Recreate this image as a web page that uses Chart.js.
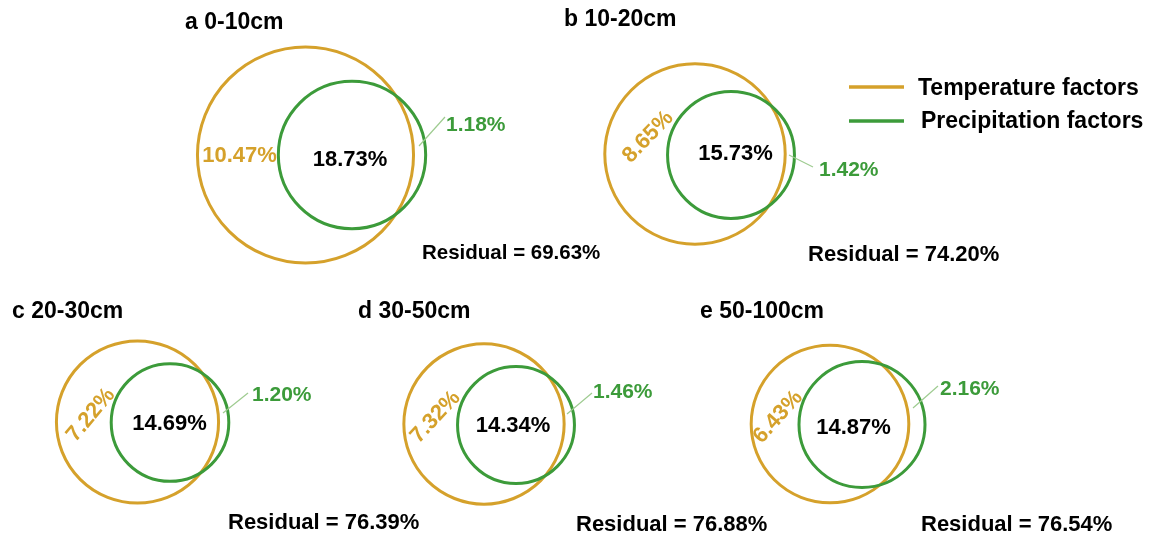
<!DOCTYPE html>
<html>
<head>
<meta charset="utf-8">
<title>Variance partitioning by soil depth</title>
<script src="https://cdn.jsdelivr.net/npm/chart.js@4/dist/chart.umd.min.js"></script>
<style>
  html, body { margin: 0; padding: 0; background: #ffffff; }
  #wrap { width: 1163px; height: 537px; }
</style>
</head>
<body>
<div id="wrap"><canvas id="venn" width="1163" height="537"></canvas></div>
<script>
// ---- data: variance explained (%) per soil layer ----
const panelLetters = ['a', 'b', 'c', 'd', 'e'];
const depths = ['0-10cm', '10-20cm', '20-30cm', '30-50cm', '50-100cm'];
const tempOnly = [10.47, 8.65, 7.22, 7.32, 6.43];
const shared = [18.73, 15.73, 14.69, 14.34, 14.87];
const precipOnly = [1.18, 1.42, 1.20, 1.46, 2.16];
const residual = [69.63, 74.20, 76.39, 76.88, 76.54];
const seriesNames = ['Temperature factors', 'Precipitation factors'];

// ---- layout (frame units, 1 unit per canvas pixel, y down) ----
const UNIT = 3.7; // frame units per percentage point of explained variance
const layout = [
  { title: [185, 23], tC: [305.5, 155], pC: [352, 155], tLbl: [239.5, 156, 0], sLbl: [350, 160],
    pLbl: [446, 125], lead: [419, 146, 445, 117], res: [422, 253, 20.5] },
  { title: [564, 20], tC: [695, 154], pC: [731, 155], tLbl: [648, 137, -46], sLbl: [735.5, 154],
    pLbl: [819, 170], lead: [789, 155, 813, 167], res: [808, 255, 22] },
  { title: [12, 312], tC: [137.5, 422], pC: [170, 422.5], tLbl: [91, 415, -50], sLbl: [169.5, 424],
    pLbl: [252, 395], lead: [223, 413, 248, 393], res: [228, 523, 22] },
  { title: [358, 312], tC: [484, 424], pC: [516, 425], tLbl: [435.5, 417, -47], sLbl: [513, 426],
    pLbl: [593, 392], lead: [567, 414, 592, 393], res: [576, 525, 22] },
  { title: [700, 312], tC: [830, 424], pC: [862, 424.5], tLbl: [778, 417, -48], sLbl: [853.5, 428],
    pLbl: [940, 389], lead: [913, 408, 938, 386], res: [921, 525, 22] }
];
const legendPos = { x0: 849, x1: 904, rows: [[87, 918, 89], [121, 921, 122]] };

const ORANGE = '#D5A12B';
const GREEN = '#3C9B3A';
const LEADER = '#9ECB90';
const FONT = '"Liberation Sans", Arial, Helvetica, sans-serif';

const fmt = v => v.toFixed(2) + '%';
const tempTotal = tempOnly.map((v, i) => v + shared[i]);
const precipTotal = precipOnly.map((v, i) => v + shared[i]);

// radius in pixels from a percentage, measured through the x scale
function radiusFrom(totals) {
  return ctx => {
    const xs = ctx.chart.scales.x;
    return xs.getPixelForValue(totals[ctx.dataIndex] * UNIT) - xs.getPixelForValue(0);
  };
}

const annotate = {
  id: 'vennText',
  afterDatasetsDraw(chart) {
    const c = chart.ctx;
    const xs = chart.scales.x, ys = chart.scales.y;
    const P = (x, y) => [xs.getPixelForValue(x), ys.getPixelForValue(y)];
    c.save();
    c.textBaseline = 'middle';

    layout.forEach((L, i) => {
      // panel title
      c.fillStyle = '#000';
      c.textAlign = 'left';
      c.font = 'bold 23px ' + FONT;
      let [x, y] = P(L.title[0], L.title[1]);
      c.fillText(panelLetters[i] + ' ' + depths[i], x, y);

      // shared fraction
      c.textAlign = 'center';
      c.font = 'bold 22px ' + FONT;
      [x, y] = P(L.sLbl[0], L.sLbl[1]);
      c.fillText(fmt(shared[i]), x, y);

      // temperature-only fraction
      c.fillStyle = ORANGE;
      [x, y] = P(L.tLbl[0], L.tLbl[1]);
      c.save();
      c.translate(x, y);
      c.rotate(L.tLbl[2] * Math.PI / 180);
      c.fillText(fmt(tempOnly[i]), 0, 0);
      c.restore();

      // precipitation-only fraction with leader line
      c.strokeStyle = LEADER;
      c.lineWidth = 1.2;
      const a = P(L.lead[0], L.lead[1]), b = P(L.lead[2], L.lead[3]);
      c.beginPath();
      c.moveTo(a[0], a[1]);
      c.lineTo(b[0], b[1]);
      c.stroke();
      c.fillStyle = GREEN;
      c.textAlign = 'left';
      c.font = 'bold 21px ' + FONT;
      [x, y] = P(L.pLbl[0], L.pLbl[1]);
      c.fillText(fmt(precipOnly[i]), x, y);

      // unexplained variance
      c.fillStyle = '#000';
      c.font = 'bold ' + L.res[2] + 'px ' + FONT;
      [x, y] = P(L.res[0], L.res[1]);
      c.fillText('Residual = ' + fmt(residual[i]), x, y);
    });

    // legend
    const colors = [ORANGE, GREEN];
    c.font = 'bold 23px ' + FONT;
    c.textAlign = 'left';
    legendPos.rows.forEach((r, k) => {
      const p0 = P(legendPos.x0, r[0]), p1 = P(legendPos.x1, r[0]);
      c.strokeStyle = colors[k];
      c.lineWidth = 3.5;
      c.beginPath();
      c.moveTo(p0[0], p0[1]);
      c.lineTo(p1[0], p1[1]);
      c.stroke();
      c.fillStyle = '#000';
      const t = P(r[1], r[2]);
      c.fillText(seriesNames[k], t[0], t[1]);
    });
    c.restore();
  }
};

new Chart(document.getElementById('venn'), {
  type: 'scatter',
  data: {
    datasets: [
      {
        label: seriesNames[1],
        data: layout.map(L => ({ x: L.pC[0], y: L.pC[1] })),
        pointStyle: 'circle',
        pointRadius: radiusFrom(precipTotal),
        pointBackgroundColor: 'rgba(0,0,0,0)',
        pointBorderColor: GREEN,
        pointBorderWidth: 3
      },
      {
        label: seriesNames[0],
        data: layout.map(L => ({ x: L.tC[0], y: L.tC[1] })),
        pointStyle: 'circle',
        pointRadius: radiusFrom(tempTotal),
        pointBackgroundColor: 'rgba(0,0,0,0)',
        pointBorderColor: ORANGE,
        pointBorderWidth: 3
      }
    ]
  },
  options: {
    responsive: false,
    animation: false,
    events: [],
    layout: { padding: 0 },
    plugins: { legend: { display: false }, tooltip: { enabled: false } },
    scales: {
      x: { type: 'linear', min: 0, max: 1163, display: false },
      y: { type: 'linear', min: 0, max: 537, reverse: true, display: false }
    }
  },
  plugins: [annotate]
});
</script>
</body>
</html>
